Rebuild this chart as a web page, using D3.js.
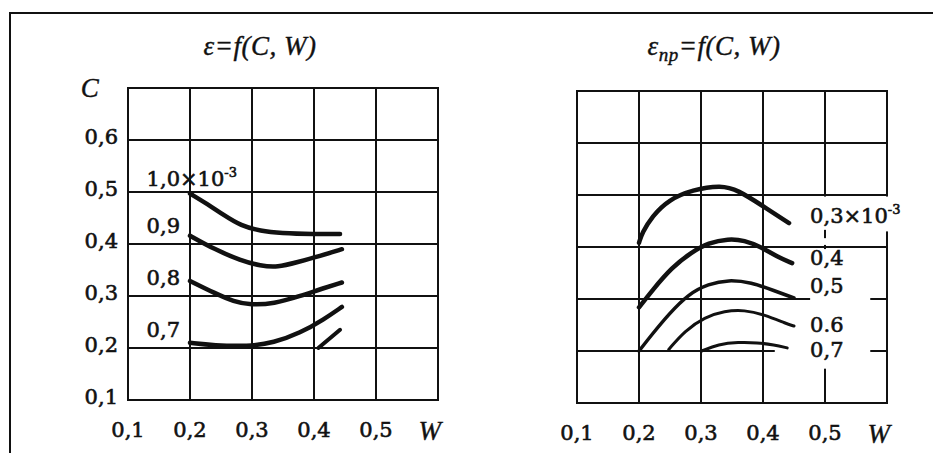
<!DOCTYPE html>
<html>
<head>
<meta charset="utf-8">
<script src="https://cdn.jsdelivr.net/npm/d3@7"></script>
<style>
  html, body { margin: 0; background: #fff; overflow: hidden; }
  svg { display: block; }
  .num { font-family: "DejaVu Serif", serif; font-size: 21px; fill: #111; stroke: #111; stroke-width: 0.6px; }
  .ital { font-family: "Liberation Serif", serif; font-style: italic; font-size: 27px; fill: #111; stroke: #111; stroke-width: 0.4px; letter-spacing: 0.5px; }
</style>
</head>
<body>
<script>
// grid values (W across, C up) and tick labels
var gridW = [0.1, 0.2, 0.3, 0.4, 0.5, 0.6];
var gridC = [0.1, 0.2, 0.3, 0.4, 0.5, 0.6, 0.7];
var tickW = [0.1, 0.2, 0.3, 0.4, 0.5];
var tickC = [0.1, 0.2, 0.3, 0.4, 0.5, 0.6];

// left panel: eps = f(C, W), points are [W, C]
var epsLabels = ['1,0×10', '0,9', '0,8', '0,7', ''];
var eps10 = [[0.2, 0.497], [0.228, 0.477], [0.255, 0.455], [0.282, 0.435], [0.314, 0.425], [0.346, 0.421], [0.4, 0.419], [0.442, 0.419]];
var eps09 = [[0.2, 0.416], [0.239, 0.39], [0.282, 0.368], [0.314, 0.358], [0.341, 0.355], [0.373, 0.365], [0.41, 0.377], [0.445, 0.39]];
var eps08 = [[0.2, 0.329], [0.239, 0.306], [0.271, 0.289], [0.298, 0.283], [0.335, 0.285], [0.378, 0.3], [0.41, 0.313], [0.445, 0.326]];
var eps07 = [[0.2, 0.21], [0.239, 0.205], [0.293, 0.203], [0.335, 0.21], [0.378, 0.229], [0.416, 0.255], [0.445, 0.279]];
var eps06 = [[0.407, 0.2], [0.442, 0.235]];

// right panel: eps_np = f(C, W)
var epsNpLabels = ['0,3×10', '0,4', '0,5', '0.6', '0,7'];
var np03 = [[0.2, 0.408], [0.205, 0.427], [0.221, 0.459], [0.248, 0.491], [0.286, 0.51], [0.333, 0.519], [0.36, 0.509], [0.397, 0.481], [0.442, 0.446]];
var np04 = [[0.2, 0.284], [0.221, 0.316], [0.253, 0.361], [0.285, 0.39], [0.312, 0.408], [0.344, 0.416], [0.37, 0.413], [0.397, 0.4], [0.423, 0.381], [0.447, 0.369]];
var np05 = [[0.2, 0.2], [0.221, 0.232], [0.248, 0.271], [0.28, 0.31], [0.312, 0.329], [0.344, 0.337], [0.381, 0.332], [0.418, 0.316], [0.45, 0.302]];
var np06 = [[0.248, 0.203], [0.274, 0.239], [0.306, 0.265], [0.338, 0.277], [0.37, 0.279], [0.402, 0.27], [0.439, 0.252], [0.45, 0.248]];
var np07 = [[0.301, 0.2], [0.328, 0.213], [0.36, 0.217], [0.391, 0.216], [0.418, 0.212], [0.439, 0.206]];

var fmt = d3.formatLocale({decimal: ',', thousands: ' ', grouping: [3], currency: ['', '']}).format('.1f');

var svg = d3.select('body')
  .append('svg')
  .attr('width', 933)
  .attr('height', 453);

// scanned page frame: only the top and left edges are on the page
svg.append('path')
  .attr('d', 'M10,453V13H933')
  .attr('fill', 'none')
  .attr('stroke', '#111')
  .attr('stroke-width', 2);

var line = d3.line().curve(d3.curveBasis);

function drawPanel(left, top, series, widths) {
  var x = d3.scaleLinear().domain([0.1, 0.6]).range([left, left + 310]);
  var y = d3.scaleLinear().domain([0.1, 0.7]).range([top + 312, top]);
  var g = svg.append('g');
  g.selectAll('line.v')
    .data(gridW)
    .enter()
    .append('line')
    .attr('class', 'v')
    .attr('x1', function(d) {return x(d);})
    .attr('x2', function(d) {return x(d);})
    .attr('y1', y(0.7) - 1)
    .attr('y2', y(0.1) + 1)
    .attr('stroke', '#111')
    .attr('stroke-width', 2);
  g.selectAll('line.h')
    .data(gridC)
    .enter()
    .append('line')
    .attr('class', 'h')
    .attr('x1', x(0.1) - 1)
    .attr('x2', x(0.6) + 1)
    .attr('y1', function(d) {return y(d);})
    .attr('y2', function(d) {return y(d);})
    .attr('stroke', '#111')
    .attr('stroke-width', 2);
  line.x(function(d) {return x(d[0]);}).y(function(d) {return y(d[1]);});
  g.selectAll('path.curve')
    .data(series)
    .enter()
    .append('path')
    .attr('class', 'curve')
    .attr('d', line)
    .attr('fill', 'none')
    .attr('stroke', '#111')
    .attr('stroke-linecap', 'round')
    .attr('stroke-width', function(d, i) {return widths[i];});
  g.selectAll('text.tw')
    .data(tickW)
    .enter()
    .append('text')
    .attr('class', 'num tw')
    .attr('x', function(d) {return x(d);})
    .attr('y', top + 349)
    .attr('text-anchor', 'middle')
    .text(function(d) {return fmt(d);});
  g.append('text')
    .attr('class', 'ital')
    .attr('x', x(0.587))
    .attr('y', top + 352)
    .attr('text-anchor', 'middle')
    .text('W');
  return {x: x, y: y, g: g};
}

// left panel
var pL = drawPanel(128, 88, [eps10, eps09, eps08, eps07, eps06], [4.5, 4.5, 4.5, 4.5, 4]);
pL.g.selectAll('text.tc')
  .data(tickC)
  .enter()
  .append('text')
  .attr('class', 'num tc')
  .attr('x', 118)
  .attr('y', function(d) {return pL.y(d) + 4;})
  .attr('text-anchor', 'end')
  .text(function(d) {return fmt(d);});
pL.g.append('text')
  .attr('class', 'ital')
  .attr('x', 90)
  .attr('y', 97)
  .attr('text-anchor', 'middle')
  .text('C');
var dyL = [-8, -3, 4, -6];
[eps10, eps09, eps08, eps07].forEach(function(s, i) {
  var t = pL.g.append('text')
    .attr('class', 'num')
    .attr('x', pL.x(0.13))
    .attr('y', pL.y(s[0][1]) + dyL[i])
    .text(epsLabels[i]);
  if (i === 0) {
    t.append('tspan').attr('dy', -9).style('font-size', '13px').text('-3');
  }
});

// right panel
var pR = drawPanel(577, 91, [np03, np04, np05, np06, np07], [4.5, 4.5, 3.5, 3, 3]);
// white gaps behind the curve labels, in data units
var gaps = [
  [0.592, 0.608, 0.497, 0.43],
  [0.494, 0.506, 0.497, 0.433],
  [0.494, 0.506, 0.417, 0.404],
  [0.494, 0.506, 0.396, 0.166],
  [0.476, 0.573, 0.31, 0.29],
  [0.419, 0.573, 0.21, 0.19]
];
pR.g.selectAll('rect.gap')
  .data(gaps)
  .enter()
  .append('rect')
  .attr('class', 'gap')
  .attr('x', function(d) {return pR.x(d[0]);})
  .attr('width', function(d) {return pR.x(d[1]) - pR.x(d[0]);})
  .attr('y', function(d) {return pR.y(d[2]);})
  .attr('height', function(d) {return pR.y(d[3]) - pR.y(d[2]);})
  .attr('fill', '#fff');
pR.g.selectAll('path.curve').raise();
var dyR = [0, 2, -5, 6, 9];
[np03, np04, np05, np06, np07].forEach(function(s, i) {
  var t = pR.g.append('text')
    .attr('class', 'num')
    .attr('x', pR.x(0.476))
    .attr('y', pR.y(s[s.length - 1][1]) + dyR[i])
    .text(epsNpLabels[i]);
  if (i === 0) {
    t.append('tspan').attr('dy', -9).style('font-size', '13px').text('-3');
  }
});

// titles
svg.append('text')
  .attr('class', 'ital')
  .attr('x', 260)
  .attr('y', 55)
  .attr('text-anchor', 'middle')
  .text('ε=f(C, W)');
var t2 = svg.append('text')
  .attr('class', 'ital')
  .attr('x', 714)
  .attr('y', 55)
  .attr('text-anchor', 'middle');
t2.append('tspan').text('ε');
t2.append('tspan').attr('dy', 6).style('font-size', '19px').text('пр');
t2.append('tspan').attr('dy', -6).text('=f(C, W)');
</script>
</body>
</html>
